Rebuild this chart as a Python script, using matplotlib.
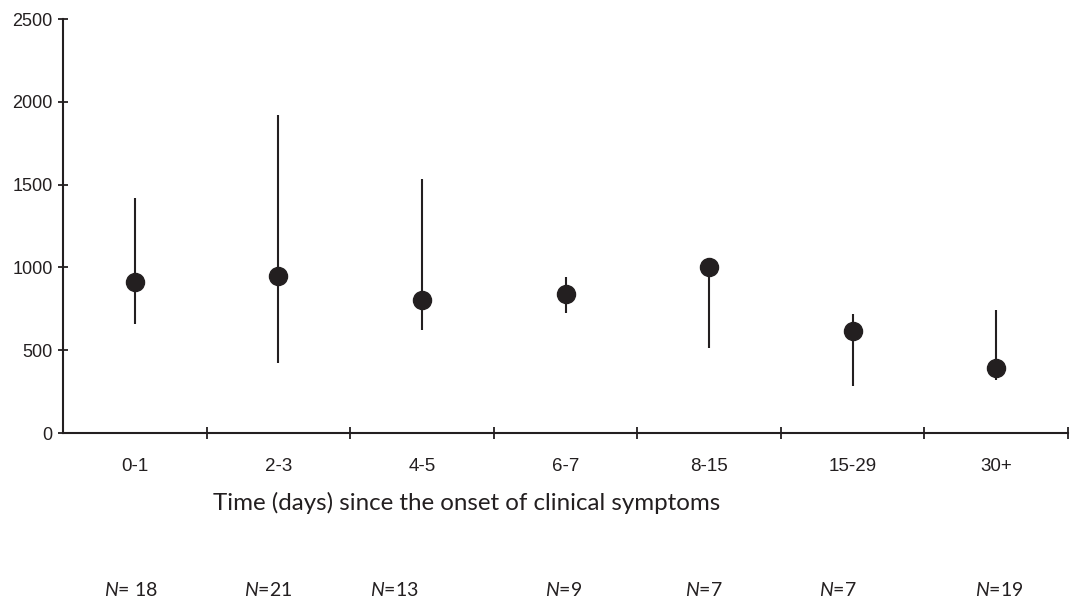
import matplotlib.pyplot as plt
import numpy as np

# Data
groups = ['0-1', '2-3', '4-5', '6-7', '8-15', '15-29', '30+']
centre = [912, 948, 806, 839, 1002, 616, 392]
upper = [1419, 1920, 1534, 942, 1002, 719, 743]
lower = [658, 423, 622, 725, 513, 284, 320]
n_counts = ['18', '21', '13', '9', '7', '7', '19']
n_pos = [0.47, 1.43, 2.31, 3.49, 4.46, 5.40, 6.52]

ink = '#231f20'
plt.rcParams['font.family'] = 'Liberation Sans'
plt.rcParams['mathtext.fontset'] = 'custom'
plt.rcParams['mathtext.it'] = 'Lato:italic'
plt.rcParams['mathtext.rm'] = 'Lato'

fig = plt.figure(figsize=(10.72, 5.99), dpi=100)
ax = fig.add_axes([63 / 1072, 1 - 433 / 599, (1068 - 63) / 1072, (433 - 19) / 599])

x = np.arange(len(groups)) + 0.5
ax.vlines(x, lower, upper, color=ink, lw=1.5)
ax.plot(x, centre, 'o', color=ink, ms=13, zorder=3)

ax.set_xlim(0, 7)
ax.set_ylim(0, 2500)
for s in ['top', 'right']:
    ax.spines[s].set_visible(False)
for s in ['left', 'bottom']:
    ax.spines[s].set_color(ink)
    ax.spines[s].set_linewidth(1.5)

ax.set_yticks(range(0, 2501, 500))
ax.tick_params(axis='y', direction='inout', length=7, width=1.3, color=ink,
               labelsize=13, pad=4, labelcolor=ink)
ax.set_xticks(range(1, 8))
ax.set_xticklabels([])
ax.tick_params(axis='x', which='major', direction='inout', length=8, width=1.3, color=ink)
ax.set_xticks(x, minor=True)
ax.set_xticklabels(groups, minor=True, fontsize=13.5, color=ink)
ax.tick_params(axis='x', which='minor', length=0, pad=18)

fig.text(467 / 1072, 1 - 503 / 599, 'Time (days) since the onset of clinical symptoms',
         family='Lato', fontsize=17.4, ha='center', va='center', color=ink)

for p, n in zip(n_pos, n_counts):
    sep = '= ' if n == '18' else '='
    ax.text(p, -(590 - 433) / 414, r'$\mathit{N}$' + sep + n,
            transform=ax.get_xaxis_transform(),
            family='Lato', fontsize=14, ha='center', va='center', color=ink)

fig.savefig('out.png', dpi=100)
